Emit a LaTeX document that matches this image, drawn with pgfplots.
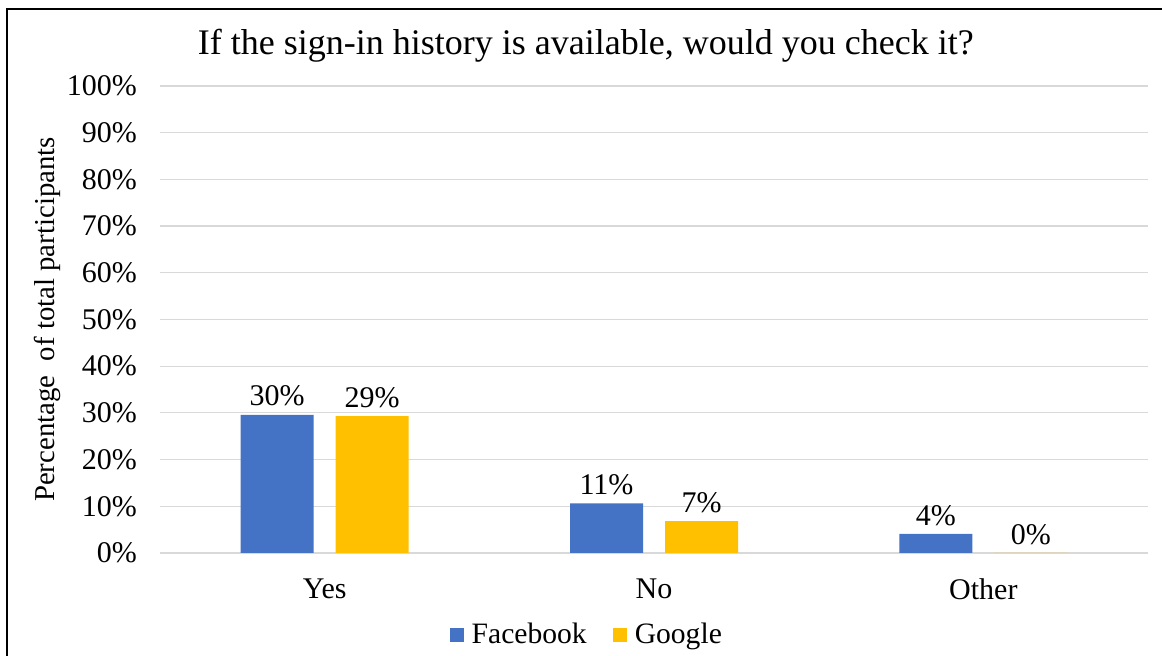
\documentclass[border=0pt]{standalone}
\usepackage{pgfplots}
\pgfplotsset{compat=1.18}
\usepackage{fontspec}
\setmainfont{Liberation Serif}
\definecolor{fbblue}{HTML}{4472C4}
\definecolor{ggold}{HTML}{FFC000}
\definecolor{gridgray}{HTML}{D9D9D9}
\begin{document}
\begin{tikzpicture}
\useasboundingbox (0,0) rectangle (581pt,328pt);
\draw[line width=1pt, black] (3.5pt,0) -- (3.5pt,323.3pt) -- (581pt,323.3pt);
\begin{axis}[
  at={(80pt,51.5pt)}, anchor=south west,
  scale only axis, width=494pt, height=233.5pt,
  xmin=-0.5, xmax=2.5, ymin=0, ymax=100,
  axis line style={draw=none},
  ytick={0,10,...,100},
  yticklabels={0\%,10\%,20\%,30\%,40\%,50\%,60\%,70\%,80\%,90\%,100\%},
  xtick={0,1,2}, xticklabels={Yes,No,Other},
  major tick length=0pt,
  tick label style={font=\fontsize{15}{17}\selectfont},
  yticklabel style={xshift=-8pt},
  xticklabel style={yshift=-9.5pt},
  ymajorgrids, grid style={gridgray, line width=0.6pt},
  ybar, bar width=36.5pt,
  ylabel={Percentage\ \ of total participants},
  ylabel style={at={(axis description cs:-0.114,0.5)}, anchor=center, font=\fontsize{14.4}{16}\selectfont},
  title={If the sign-in history is available, would you check it?},
  title style={at={(axis description cs:0.431,1.06)}, anchor=center, font=\fontsize{18}{21}\selectfont},
  nodes near coords={\pgfmathprintnumber[fixed,precision=0,assume math mode=true]{\pgfplotspointmeta}\%},
  every node near coord/.append style={font=\fontsize{15}{17}\selectfont, black, inner sep=4pt},
  legend style={at={(axis description cs:0.433,-0.175)}, anchor=center, draw=none, fill=none,
    font=\fontsize{14.8}{16}\selectfont, legend columns=2,
    /tikz/every even column/.append style={column sep=11pt},
    /tikz/every odd column/.append style={column sep=2pt}},
  legend image code/.code={\fill[#1] (0pt,-3.5pt) rectangle (7pt,3.5pt);},
]
\addplot[fill=fbblue, draw=none, bar shift=-23.75pt] coordinates {(0,29.6) (1,10.6) (2,4.1)};
\addplot[fill=ggold, draw=none, bar shift=23.75pt] coordinates {(0,29.3) (1,6.8) (2,0)};
\legend{Facebook, Google}
\end{axis}
\end{tikzpicture}
\end{document}
